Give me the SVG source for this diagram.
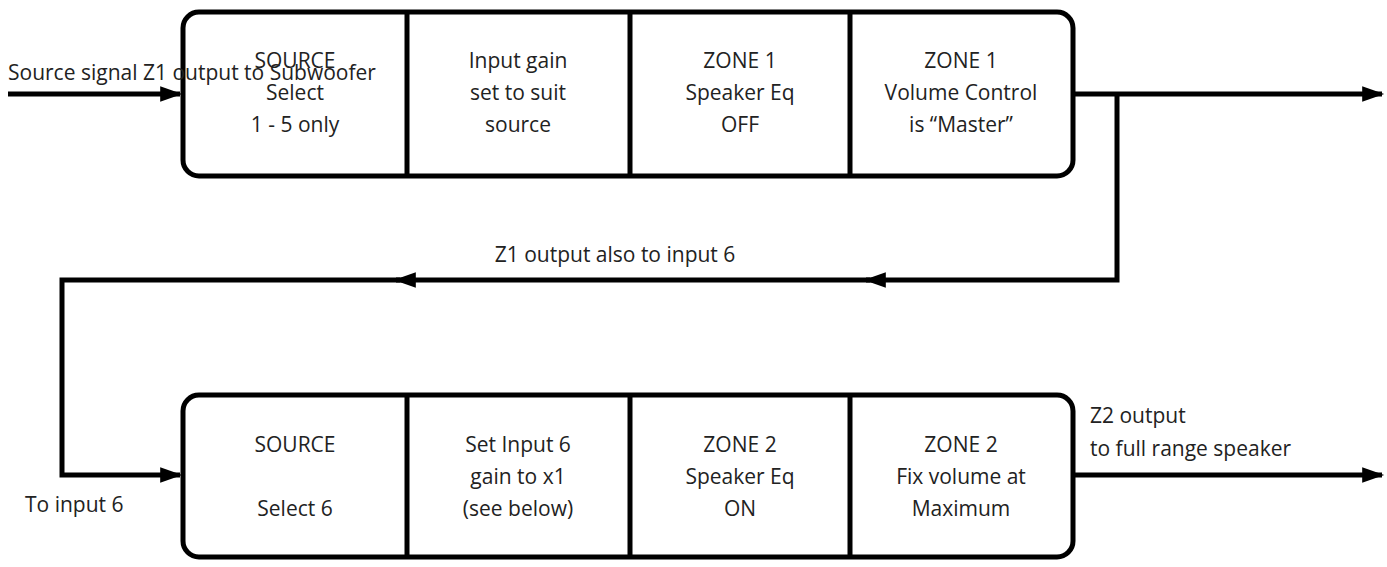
<svg xmlns="http://www.w3.org/2000/svg" width="1387" height="567" viewBox="0 0 1387 567">
<style>
.box{fill:none;stroke:#000;stroke-width:5}
.ln{fill:none;stroke:#000;stroke-width:5}
text{font-family:"Open Sans","Liberation Sans",sans-serif;font-size:21px;fill:#222}
.c{text-anchor:middle}
</style>
<defs>
<marker id="a" viewBox="0 0 10 10" refX="9" refY="5" markerWidth="8" markerHeight="4.4" markerUnits="strokeWidth" orient="auto"><path d="M0,1.5 L10,5 L0,8.5 z" fill="#000"/></marker>
</defs>
<rect width="1387" height="567" fill="#fff"/>
<g id="connectors">
<path class="ln" d="M8,94 H180" marker-end="url(#a)"/>
<path class="ln" d="M1073,94 H1382" marker-end="url(#a)"/>
<path class="ln" d="M1117,94 V280 H866" marker-end="url(#a)"/>
<path class="ln" d="M870,280 H396" marker-end="url(#a)"/>
<path class="ln" d="M400,280 H62 V475 H180" marker-end="url(#a)"/>
<path class="ln" d="M1073,475 H1382" marker-end="url(#a)"/>
</g>
<g id="top">
<rect class="box" x="183" y="12" width="890" height="164" rx="16"/>
<path class="ln" d="M407,12V176M630,12V176M850,12V176"/>
<text class="c" x="295" y="68">SOURCE</text><text class="c" x="295" y="100">Select</text><text class="c" x="295" y="132">1 - 5 only</text>
<text class="c" x="518" y="68">Input gain</text><text class="c" x="518" y="100">set to suit</text><text class="c" x="518" y="132">source</text>
<text class="c" x="740" y="68">ZONE 1</text><text class="c" x="740" y="100">Speaker Eq</text><text class="c" x="740" y="132">OFF</text>
<text class="c" x="961" y="68">ZONE 1</text><text class="c" x="961" y="100">Volume Control</text><text class="c" x="961" y="132">is “Master”</text>
</g>
<g id="bottom">
<rect class="box" x="183" y="395" width="890" height="162" rx="16"/>
<path class="ln" d="M407,395V557M630,395V557M850,395V557"/>
<text class="c" x="295" y="452">SOURCE</text><text class="c" x="295" y="516">Select 6</text>
<text class="c" x="518" y="452">Set Input 6</text><text class="c" x="518" y="484">gain to x1</text><text class="c" x="518" y="516">(see below)</text>
<text class="c" x="740" y="452">ZONE 2</text><text class="c" x="740" y="484">Speaker Eq</text><text class="c" x="740" y="516">ON</text>
<text class="c" x="961" y="452">ZONE 2</text><text class="c" x="961" y="484">Fix volume at</text><text class="c" x="961" y="516">Maximum</text>
</g>
<g id="labels">
<text x="8" y="80">Source signal Z1 output to Subwoofer</text>
<text class="c" x="615" y="262">Z1 output also to input 6</text>
<text x="25" y="512">To input 6</text>
<text x="1090" y="423">Z2 output</text>
<text x="1090" y="456">to full range speaker</text>
</g>
</svg>
